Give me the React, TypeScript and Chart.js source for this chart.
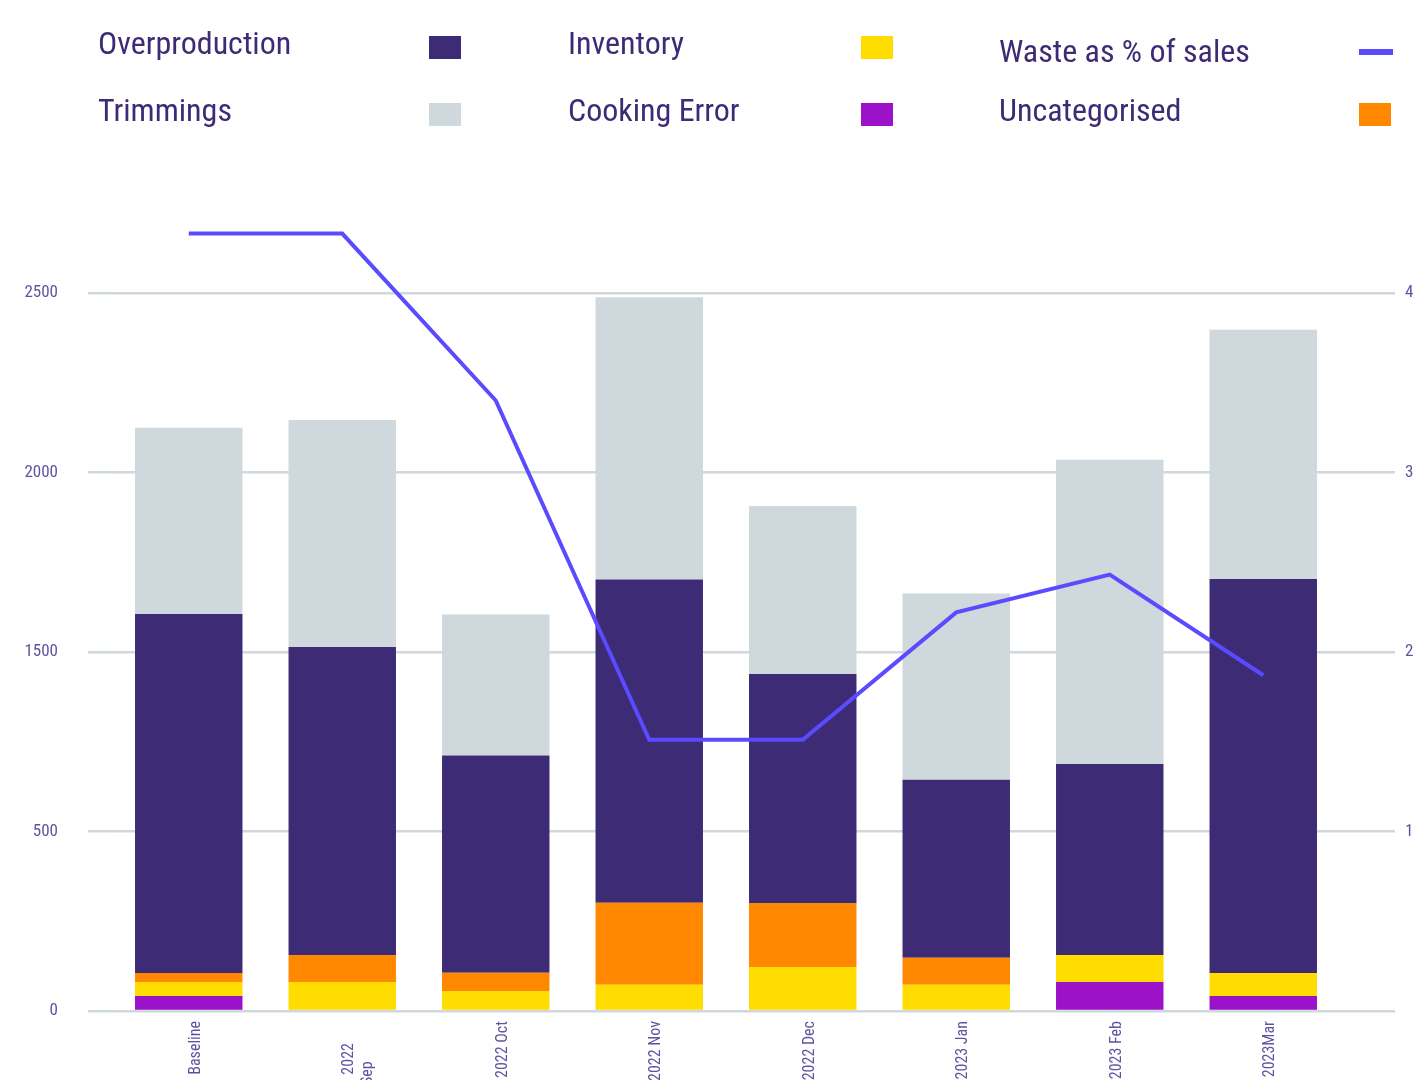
import React, { useEffect, useRef } from "react";
import { Chart, registerables } from "chart.js";

Chart.register(...registerables);

const categories: (string | string[])[] = [
  "Baseline",
  ["2022      ", "Sep           "],
  "2022 Oct",
  "2022 Nov",
  "2022 Dec",
  "2023 Jan",
  "2023 Feb",
  "2023Mar",
];

const cookingError = [52, 0, 0, 0, 0, 0, 101, 52];
const inventory = [49, 101, 70, 91, 153, 91, 94, 80];
const uncategorised = [31, 94, 63, 286, 223, 94, 0, 0];
const overproduction = [1250, 1072, 756, 1125, 797, 620, 665, 1372];
const trimmings = [648, 790, 491, 982, 585, 648, 1059, 867];
const wastePct = [4.33, 4.33, 3.4, 1.51, 1.51, 2.22, 2.43, 1.87];

const leftTickValues = [0, 625, 1250, 1875, 2500];
const leftTickLabels = ["0", "500", "1500", "2000", "2500"];
const rightTickValues = [0, 1, 2, 3, 4];
const rightTickLabels = ["", "1", "2", "3", "4"];

const COLORS = {
  overproduction: "#3d2b76",
  trimmings: "#cfd8dc",
  inventory: "#ffdd00",
  cookingError: "#9b12c8",
  uncategorised: "#ff8800",
  line: "#5a4bff",
  grid: "#cfd8dc",
  tick: "#5f53a0",
  legendText: "#3d2b76",
};

const FONT = "'Roboto Condensed', 'Liberation Sans Narrow', 'DejaVu Sans Condensed', sans-serif";

const W = 1418;
const H = 1180;

type LegendItem = {
  label: string;
  color: string;
  kind: "box" | "line";
  textX: number;
  textTop: number;
  swX: number;
  swY: number;
};

const legendItems: LegendItem[] = [
  { label: "Overproduction", color: COLORS.overproduction, kind: "box", textX: 98, textTop: 23, swX: 429, swY: 36 },
  { label: "Inventory", color: COLORS.inventory, kind: "box", textX: 568, textTop: 23, swX: 861, swY: 36 },
  { label: "Waste as % of sales", color: COLORS.line, kind: "line", textX: 999, textTop: 31, swX: 1359, swY: 49 },
  { label: "Trimmings", color: COLORS.trimmings, kind: "box", textX: 98, textTop: 90, swX: 429, swY: 103 },
  { label: "Cooking Error", color: COLORS.cookingError, kind: "box", textX: 568, textTop: 90, swX: 861, swY: 103 },
  { label: "Uncategorised", color: COLORS.uncategorised, kind: "box", textX: 999, textTop: 90, swX: 1359, swY: 103 },
];

export default function App() {
  const canvasRef = useRef<HTMLCanvasElement | null>(null);

  useEffect(() => {
    if (!canvasRef.current) return;
    const barCommon = {
      type: "bar" as const,
      yAxisID: "y",
      stack: "waste",
      order: 1,
      barPercentage: 0.7,
      categoryPercentage: 1,
      borderWidth: 0,
    };
    const chart = new Chart(canvasRef.current, {
      type: "bar",
      data: {
        labels: categories as any,
        datasets: [
          { ...barCommon, label: "Cooking Error", data: cookingError, backgroundColor: COLORS.cookingError },
          { ...barCommon, label: "Inventory", data: inventory, backgroundColor: COLORS.inventory },
          { ...barCommon, label: "Uncategorised", data: uncategorised, backgroundColor: COLORS.uncategorised },
          { ...barCommon, label: "Overproduction", data: overproduction, backgroundColor: COLORS.overproduction },
          { ...barCommon, label: "Trimmings", data: trimmings, backgroundColor: COLORS.trimmings },
          {
            type: "line" as const,
            label: "Waste as % of sales",
            data: wastePct,
            yAxisID: "y1",
            borderColor: COLORS.line,
            backgroundColor: COLORS.line,
            borderWidth: 4,
            pointRadius: 0,
            tension: 0,
            order: 0,
          } as any,
        ],
      },
      options: {
        animation: false,
        responsive: false,
        devicePixelRatio: 1,
        layout: { padding: { top: 203, left: 0, right: 0, bottom: 0 } },
        plugins: {
          legend: { display: false },
          tooltip: { enabled: false },
        },
        scales: {
          x: {
            stacked: true,
            offset: true,
            grid: { display: false },
            border: { display: false },
            ticks: {
              color: COLORS.tick,
              font: { family: FONT, size: 16 },
              minRotation: 90,
              maxRotation: 90,
              autoSkip: false,
              padding: 2,
              labelOffset: 7,
            },
            afterFit: (scale: any) => {
              scale.height = H - 1011;
            },
          },
          y: {
            type: "linear",
            position: "left",
            stacked: true,
            min: 0,
            max: 2812.5,
            grid: {
              color: COLORS.grid,
              lineWidth: 2.5,
              tickLength: 24,
              drawTicks: true,
            },
            border: { display: false },
            ticks: {
              color: COLORS.tick,
              font: { family: FONT, size: 17 },
              padding: 30,
              callback: (_v: any, i: number) => leftTickLabels[i],
            },
            afterBuildTicks: (scale: any) => {
              scale.ticks = leftTickValues.map((v) => ({ value: v }));
            },
            afterFit: (scale: any) => {
              scale.width = 112;
            },
          },
          y1: {
            type: "linear",
            position: "right",
            min: 0,
            max: 4.5,
            grid: {
              color: COLORS.grid,
              lineWidth: 2.5,
              tickLength: 55,
              drawOnChartArea: false,
              drawTicks: true,
            },
            border: { display: false },
            ticks: {
              color: COLORS.tick,
              font: { family: FONT, size: 17 },
              padding: 10,
              callback: (_v: any, i: number) => rightTickLabels[i],
            },
            afterBuildTicks: (scale: any) => {
              scale.ticks = rightTickValues.map((v) => ({ value: v }));
            },
            afterFit: (scale: any) => {
              scale.width = W - 1340;
            },
          },
        },
      } as any,
    });
    return () => chart.destroy();
  }, []);

  return (
    <div
      style={{
        position: "fixed",
        top: 0,
        left: 0,
        width: W,
        height: 1080,
        overflow: "hidden",
        background: "#ffffff",
      }}
    >
      <canvas
        ref={canvasRef}
        width={W}
        height={H}
        style={{ position: "absolute", left: 0, top: 0, width: W, height: H }}
      />
      {legendItems.map((it) => (
        <React.Fragment key={it.label}>
          <div
            style={{
              position: "absolute",
              left: it.textX,
              top: it.textTop,
              fontFamily: FONT,
              fontSize: 32,
              lineHeight: "40px",
              color: COLORS.legendText,
              whiteSpace: "nowrap",
            }}
          >
            {it.label}
          </div>
          <div
            style={{
              position: "absolute",
              left: it.swX,
              top: it.swY,
              width: it.kind === "line" ? 34 : 32,
              height: it.kind === "line" ? 6 : 23,
              background: it.color,
            }}
          />
        </React.Fragment>
      ))}
    </div>
  );
}
